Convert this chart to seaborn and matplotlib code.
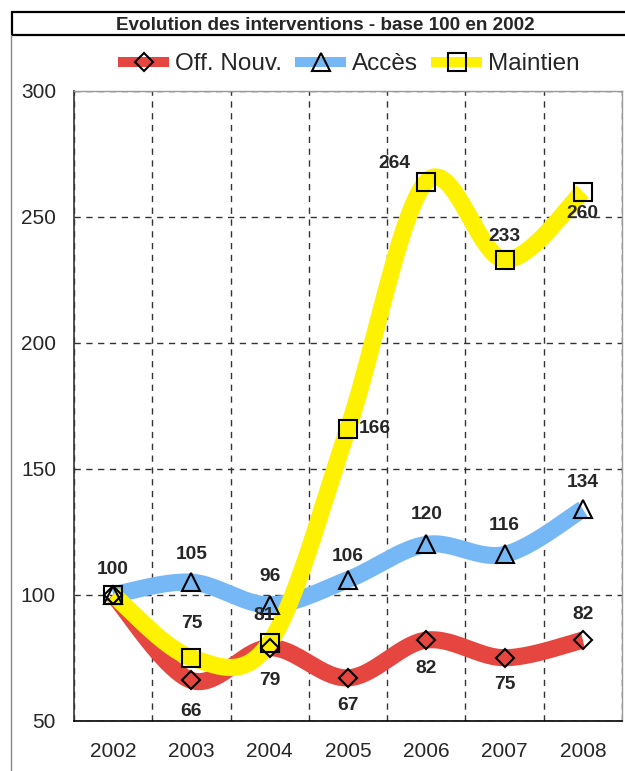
import numpy as np
import matplotlib
matplotlib.use("Agg")
import matplotlib.pyplot as plt
from matplotlib.lines import Line2D
from matplotlib.patches import Rectangle
import seaborn as sns

years = ["2002", "2003", "2004", "2005", "2006", "2007", "2008"]
off_nouv = [100, 66, 79, 67, 82, 75, 82]
acces = [100, 105, 96, 106, 120, 116, 134]
maintien = [100, 75, 81, 166, 264, 233, 260]
series_names = ["Off. Nouv.", "Accès", "Maintien"]
y_ticks = [50, 100, 150, 200, 250, 300]
title = "Evolution des interventions - base 100 en 2002"

sns.set_style("white")
plt.rcParams["font.family"] = ["Liberation Sans", "DejaVu Sans"]

W, H = 625, 771
fig = plt.figure(figsize=(W / 100, H / 100), dpi=100)
ax = fig.add_axes([74 / W, 1 - 720.7 / H, (622 - 74) / W, (720.7 - 91) / H])


def smooth(xv, yv, n=40):
    """Catmull-Rom style Bezier smoothing (like Excel smoothed lines)."""
    P = np.column_stack([xv, yv]).astype(float)
    out = []
    for i in range(len(P) - 1):
        p0 = P[i - 1] if i > 0 else P[i]
        p1 = P[i]
        p2 = P[i + 1]
        p3 = P[i + 2] if i + 2 < len(P) else P[i + 1]
        c1 = p1 + (p2 - p0) / 6.0
        c2 = p2 - (p3 - p1) / 6.0
        t = np.linspace(0, 1, n)[:, None]
        seg = ((1 - t) ** 3) * p1 + 3 * ((1 - t) ** 2) * t * c1 + 3 * (1 - t) * t ** 2 * c2 + t ** 3 * p2
        if i > 0:
            seg = seg[1:]
        out.append(seg)
    out = np.vstack(out)
    return out[:, 0], out[:, 1]


xpos = np.arange(len(years))
colors = ["#E5463F", "#76B8F6", "#FFF200"]
markers = ["D", "^", "s"]
msizes = [9.0, 13.0, 12.5]
data = [off_nouv, acces, maintien]

for vals, c in zip(data, colors):
    sx, sy = smooth(xpos, vals)
    sns.lineplot(x=sx, y=sy, ax=ax, color=c, lw=12.3, sort=False, estimator=None,
                 solid_capstyle="butt", solid_joinstyle="round", zorder=3)

for vals, m, ms in zip(data, markers, msizes):
    ax.plot(xpos, vals, linestyle="none", marker=m, ms=ms, mfc="none", mec="black",
            mew=1.5, zorder=5)

# data labels: (dx, dy) in pixels
lab_px = 100 / 72.0
offs = [
    [None, (0, -31), (0, -33), (0, -28), (0, -28), (0, -27), (0, 26)],
    [(0, 25), (0, 28), (0, 28), (0, 23), (0, 30), (0, 29), (0, 27)],
    [None, (0, 34), (-6, 27), ("r", 0), (-32, 18), (0, 23), (0, -22)],
]
for vals, off in zip(data, offs):
    for i, (v, o) in enumerate(zip(vals, off)):
        if o is None:
            continue
        if o[0] == "r":
            ax.annotate(str(v), (i, v), xytext=(11 / lab_px, 0), textcoords="offset points",
                        ha="left", va="center", fontsize=13.8, fontweight="bold", zorder=6)
        else:
            ax.annotate(str(v), (i, v), xytext=(o[0] / lab_px, o[1] / lab_px),
                        textcoords="offset points", ha="center", va="center",
                        fontsize=13.8, fontweight="bold", zorder=6)

ax.set_xlim(-0.5, len(years) - 0.5)
ax.set_ylim(50, 300)
ax.set_yticks(y_ticks)
ax.set_yticklabels([str(t) for t in y_ticks])
ax.set_xticks(np.arange(-0.5, len(years), 1.0))
ax.set_xticklabels([])
ax.set_xticks(xpos, minor=True)
ax.set_xticklabels(years, minor=True)
ax.tick_params(axis="x", which="minor", length=0, labelsize=15, pad=15)
ax.tick_params(axis="x", which="major", length=6, width=1, direction="out", color="black")
ax.tick_params(axis="y", length=6, width=1, direction="out", labelsize=15, pad=7, color="#333333")
ax.grid(True, which="major", axis="both", linestyle=(0, (4.5, 4)), color="#333333", lw=1.0, zorder=1)

for s in ["top", "right"]:
    ax.spines[s].set_color("#999999")
    ax.spines[s].set_linewidth(1)
ax.spines["left"].set_color("#333333")
ax.spines["bottom"].set_color("black")
ax.spines["left"].set_linewidth(1.2)
ax.spines["bottom"].set_linewidth(1.2)
for s in ax.spines.values():
    s.set_zorder(2)

# title box and chart border
fig.add_artist(Rectangle((12 / W, 1 - 35 / H), 1.0, 23 / H, transform=fig.transFigure,
                         fill=False, ec="black", lw=1.6))
fig.add_artist(Line2D([11 / W, 11 / W], [0, 1 - 35 / H], transform=fig.transFigure,
                      color="#888888", lw=1))
fig.text(325 / W, 1 - 25 / H, title, ha="center", va="center", fontsize=13.6, fontweight="bold")

handles = [Line2D([], [], color=c, lw=7.2, marker=m, ms=s, mfc="none", mec="black", mew=1.5,
                  solid_capstyle="butt")
           for c, m, s in zip(colors, markers, [9.2, 13, 13])]
fig.legend(handles, series_names, loc="center left", bbox_to_anchor=(118 / W, 1 - 64 / H), ncol=3,
           frameon=False, fontsize=17.5, handlelength=2.1, handletextpad=0.25, columnspacing=0.53,
           borderpad=0, borderaxespad=0)

fig.savefig("out.png", dpi=100)
